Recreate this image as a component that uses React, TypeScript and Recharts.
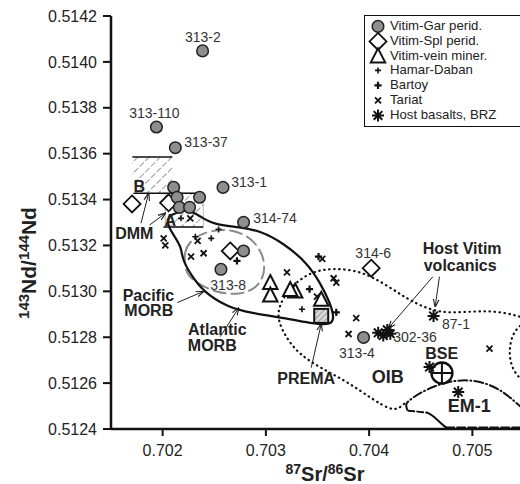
import React from 'react';
import {
  ScatterChart,
  Scatter,
  XAxis,
  YAxis,
  ReferenceLine,
  ReferenceArea,
  Legend,
} from 'recharts';

const FONT = '"Liberation Sans", Arial, Helvetica, sans-serif';

const xTicks = [0.702, 0.703, 0.704, 0.705];
const yTicks = [0.5124, 0.5126, 0.5128, 0.513, 0.5132, 0.5134, 0.5136, 0.5138, 0.514, 0.5142];

// samples
const garPerid = [
  { x: 0.702387, y: 0.514048 },
  { x: 0.70194, y: 0.513716 },
  { x: 0.702123, y: 0.513626 },
  { x: 0.702585, y: 0.513453 },
  { x: 0.702107, y: 0.513453 },
  { x: 0.70214, y: 0.51341 },
  { x: 0.702358, y: 0.51341 },
  { x: 0.702162, y: 0.513366 },
  { x: 0.702261, y: 0.513366 },
  { x: 0.702784, y: 0.513301 },
  { x: 0.702784, y: 0.513176 },
  { x: 0.702565, y: 0.513096 },
  { x: 0.703946, y: 0.512799 },
];
const splPerid = [
  { x: 0.701704, y: 0.513381 },
  { x: 0.702058, y: 0.513386 },
  { x: 0.702655, y: 0.513176 },
  { x: 0.70402, y: 0.513101 },
];
const veinMiner = [
  { x: 0.703043, y: 0.513036 },
  { x: 0.703043, y: 0.512982 },
  { x: 0.703284, y: 0.512999 },
  { x: 0.703236, y: 0.513006 },
  { x: 0.703536, y: 0.512963 },
];
const hamarDaban = [
  { x: 0.702178, y: 0.513318 },
  { x: 0.702542, y: 0.51327 },
  { x: 0.702471, y: 0.513231 },
  { x: 0.702317, y: 0.513238 },
  { x: 0.70335, y: 0.512922 },
];
const bartoy = [
  { x: 0.70272, y: 0.513133 },
  { x: 0.70351, y: 0.513151 },
  { x: 0.703423, y: 0.51301 },
  { x: 0.703682, y: 0.512908 },
];
const tariat = [
  { x: 0.702268, y: 0.513318 },
  { x: 0.702339, y: 0.51322 },
  { x: 0.70201, y: 0.513231 },
  { x: 0.702026, y: 0.5132 },
  { x: 0.702275, y: 0.513151 },
  { x: 0.702397, y: 0.513166 },
  { x: 0.703546, y: 0.513141 },
  { x: 0.703204, y: 0.513083 },
  { x: 0.703656, y: 0.513057 },
  { x: 0.703682, y: 0.513038 },
  { x: 0.703495, y: 0.512977 },
  { x: 0.703875, y: 0.512883 },
  { x: 0.703801, y: 0.512814 },
  { x: 0.705166, y: 0.51275 },
];
const hostBasalts = [
  { x: 0.704624, y: 0.512893 },
  { x: 0.704088, y: 0.512819 },
  { x: 0.704137, y: 0.512807 },
  { x: 0.704176, y: 0.512832 },
  { x: 0.704205, y: 0.512815 },
  { x: 0.704585, y: 0.51267 },
  { x: 0.704863, y: 0.512561 },
];
const prema = [{ x: 0.703536, y: 0.512893 }];
const bse = [{ x: 0.704705, y: 0.512644 }];

// fields
const atlanticMorb = [
  { x: 0.702055, y: 0.513328 }, { x: 0.702142, y: 0.513344 }, { x: 0.702249, y: 0.513359 },
  { x: 0.702365, y: 0.513326 }, { x: 0.702491, y: 0.513291 }, { x: 0.702752, y: 0.51328 },
  { x: 0.702946, y: 0.513263 }, { x: 0.703168, y: 0.513211 }, { x: 0.703401, y: 0.513124 },
  { x: 0.703526, y: 0.513037 }, { x: 0.703623, y: 0.51295 }, { x: 0.703662, y: 0.512884 },
  { x: 0.703632, y: 0.512854 }, { x: 0.703468, y: 0.512858 }, { x: 0.703207, y: 0.512882 },
  { x: 0.702849, y: 0.512906 }, { x: 0.702626, y: 0.512932 }, { x: 0.702394, y: 0.512998 },
  { x: 0.702268, y: 0.513076 }, { x: 0.70219, y: 0.513141 }, { x: 0.702181, y: 0.513193 },
  { x: 0.702113, y: 0.513241 }, { x: 0.702045, y: 0.513289 },
];
const pacificMorb = [
  { x: 0.70222, y: 0.513101 }, { x: 0.702203, y: 0.513173 }, { x: 0.702285, y: 0.513231 },
  { x: 0.702462, y: 0.513267 }, { x: 0.702687, y: 0.51327 }, { x: 0.702865, y: 0.513231 },
  { x: 0.702978, y: 0.513159 }, { x: 0.702994, y: 0.513079 }, { x: 0.702914, y: 0.513014 },
  { x: 0.702752, y: 0.512985 }, { x: 0.702527, y: 0.512992 }, { x: 0.702333, y: 0.513035 },
  { x: 0.702242, y: 0.513072 },
];
const oibField = [
  { x: 0.70434, y: 0.51251 }, { x: 0.704282, y: 0.512488 }, { x: 0.704205, y: 0.512484 },
  { x: 0.70404, y: 0.512528 }, { x: 0.703788, y: 0.512606 }, { x: 0.703526, y: 0.512667 },
  { x: 0.703333, y: 0.512723 }, { x: 0.703207, y: 0.512789 }, { x: 0.70311, y: 0.512876 },
  { x: 0.703129, y: 0.512941 }, { x: 0.703236, y: 0.513019 }, { x: 0.703429, y: 0.513085 },
  { x: 0.703652, y: 0.513102 }, { x: 0.703913, y: 0.513089 }, { x: 0.704136, y: 0.513037 },
  { x: 0.704368, y: 0.512967 }, { x: 0.704562, y: 0.512924 }, { x: 0.704737, y: 0.512906 },
  { x: 0.70493, y: 0.51291 }, { x: 0.705143, y: 0.512915 }, { x: 0.705336, y: 0.512906 },
  { x: 0.7055, y: 0.512884 },
];
const rightField = [
  { x: 0.7055, y: 0.512863 }, { x: 0.705414, y: 0.512832 }, { x: 0.705366, y: 0.51278 },
  { x: 0.705356, y: 0.51271 }, { x: 0.705404, y: 0.512645 }, { x: 0.7055, y: 0.512606 },
];
const em1Top = [
  { x: 0.704369, y: 0.512484 }, { x: 0.70435, y: 0.51251 }, { x: 0.704398, y: 0.512528 },
  { x: 0.704495, y: 0.512558 }, { x: 0.704641, y: 0.512589 }, { x: 0.704805, y: 0.51261 },
  { x: 0.704979, y: 0.512615 }, { x: 0.705154, y: 0.512597 }, { x: 0.705299, y: 0.512562 },
  { x: 0.705414, y: 0.512519 }, { x: 0.7055, y: 0.512484 },
];
const em1Dashed = [
  { x: 0.704379, y: 0.51248 }, { x: 0.704562, y: 0.512471 },
];
const em1Solid = [
  { x: 0.704562, y: 0.512471 }, { x: 0.70462, y: 0.512458 }, { x: 0.704678, y: 0.512432 },
  { x: 0.704746, y: 0.512406 },
];
const em1Base = [
  { x: 0.704746, y: 0.512406 }, { x: 0.7055, y: 0.512406 },
];

// DMM boxes
const dmmBoxes = [
  { name: 'B', x1: 0.701707, x2: 0.702094, y1: 0.513428, y2: 0.513585 },
  { name: 'A', x1: 0.702026, x2: 0.702394, y1: 0.51328, y2: 0.513428 },
];
const dmmLines = [
  { x1: 0.701707, y1: 0.513585, x2: 0.702094, y2: 0.513585 },
  { x1: 0.701717, y1: 0.513428, x2: 0.702394, y2: 0.513428 },
  { x1: 0.702007, y1: 0.51328, x2: 0.702394, y2: 0.51328 },
];

const arrows = [
  { x1: 0.702142, y1: 0.512951, x2: 0.702394, y2: 0.512999 },
  { x1: 0.702559, y1: 0.512803, x2: 0.702736, y2: 0.512927 },
  { x1: 0.701791, y1: 0.513297, x2: 0.701864, y2: 0.513427 },
  { x1: 0.701874, y1: 0.513289, x2: 0.702026, y2: 0.51334 },
  { x1: 0.703439, y1: 0.512667, x2: 0.703536, y2: 0.512858 },
  { x1: 0.704618, y1: 0.513064, x2: 0.704188, y2: 0.51284 },
  { x1: 0.704681, y1: 0.513064, x2: 0.70464, y2: 0.512934 },
];

const sampleLabels = [
  { text: '313-2', x: 0.702389, y: 0.514107, anchor: 'middle' },
  { text: '313-110', x: 0.70192, y: 0.513777, anchor: 'middle' },
  { text: '313-37', x: 0.70221, y: 0.51365, anchor: 'start' },
  { text: '313-1', x: 0.702665, y: 0.513476, anchor: 'start' },
  { text: '314-74', x: 0.702878, y: 0.51332, anchor: 'start' },
  { text: '313-8', x: 0.702462, y: 0.513028, anchor: 'start' },
  { text: '314-6', x: 0.70404, y: 0.513167, anchor: 'middle' },
  { text: '313-4', x: 0.703882, y: 0.512732, anchor: 'middle' },
  { text: '302-36', x: 0.704233, y: 0.512802, anchor: 'start' },
  { text: '87-1', x: 0.704706, y: 0.512858, anchor: 'start' },
];
const fieldLabels = [
  { text: 'Host Vitim', x: 0.704901, y: 0.513189 },
  { text: 'volcanics', x: 0.704882, y: 0.513115 },
  { text: 'BSE', x: 0.704703, y: 0.512728 },
  { text: 'PREMA', x: 0.703391, y: 0.512619 },
  { text: 'Pacific', x: 0.701863, y: 0.512984 },
  { text: 'MORB', x: 0.701866, y: 0.512915 },
  { text: 'Atlantic', x: 0.70253, y: 0.512835 },
  { text: 'MORB', x: 0.702481, y: 0.512766 },
  { text: 'DMM', x: 0.701726, y: 0.513254 },
  { text: 'A', x: 0.702075, y: 0.513311 },
  { text: 'B', x: 0.701774, y: 0.513459 },
];
const bigLabels = [
  { text: 'OIB', x: 0.70418, y: 0.512628 },
  { text: 'EM-1', x: 0.704969, y: 0.512501 },
];

const GarDot = (p: any) => (
  <circle cx={p.cx} cy={p.cy} r={5.8} fill="#8e8e8e" stroke="#222" strokeWidth={1.5} />
);
const SplDot = (p: any) => {
  const { cx, cy } = p;
  const d = 8.5;
  return (
    <polygon
      points={`${cx},${cy - d} ${cx + d},${cy} ${cx},${cy + d} ${cx - d},${cy}`}
      fill="#fff"
      stroke="#111"
      strokeWidth={1.8}
    />
  );
};
const VeinDot = (p: any) => {
  const { cx, cy } = p;
  return (
    <polygon
      points={`${cx},${cy - 8} ${cx + 7.2},${cy + 6} ${cx - 7.2},${cy + 6}`}
      fill="#fff"
      stroke="#111"
      strokeWidth={2}
    />
  );
};
const plus = (cx: number, cy: number, a: number, w: number) => (
  <path d={`M${cx - a},${cy}H${cx + a}M${cx},${cy - a}V${cy + a}`} stroke="#111" strokeWidth={w} />
);
const HamarDot = (p: any) => plus(p.cx, p.cy, 3, 1.6);
const BartoyDot = (p: any) => plus(p.cx, p.cy, 3.6, 2.2);
const TariatDot = (p: any) => {
  const { cx, cy } = p;
  const a = 3;
  return (
    <path
      d={`M${cx - a},${cy - a}L${cx + a},${cy + a}M${cx - a},${cy + a}L${cx + a},${cy - a}`}
      stroke="#111"
      strokeWidth={1.8}
    />
  );
};
const HostDot = (p: any) => {
  const { cx, cy } = p;
  const a = 6;
  const b = 4.3;
  return (
    <path
      d={`M${cx - a},${cy}H${cx + a}M${cx},${cy - a}V${cy + a}M${cx - b},${cy - b}L${cx + b},${cy + b}M${cx - b},${cy + b}L${cx + b},${cy - b}`}
      stroke="#111"
      strokeWidth={2}
    />
  );
};
const PremaDot = (p: any) => (
  <rect x={p.cx - 7} y={p.cy - 7} width={14} height={14} fill="url(#premaHatch)" stroke="#111" strokeWidth={2} />
);
const BseDot = (p: any) => {
  const { cx, cy } = p;
  const r = 10.5;
  return (
    <g>
      <circle cx={cx} cy={cy} r={r} fill="#fff" stroke="#111" strokeWidth={2.4} />
      <path d={`M${cx - r},${cy}H${cx + r}M${cx},${cy - r}V${cy + r}`} stroke="#111" strokeWidth={2} />
    </g>
  );
};
const NoDot = () => <g />;

const SampleText = (p: any) => (
  <text x={p.cx} y={p.cy} dy="0.35em" textAnchor={p.payload.anchor} fontSize={14} fill="#333" fontFamily={FONT}>
    {p.payload.text}
  </text>
);
const FieldText = (p: any) => (
  <text x={p.cx} y={p.cy} dy="0.35em" textAnchor="middle" fontSize={16} fontWeight="bold" fill="#222" fontFamily={FONT}>
    {p.payload.text}
  </text>
);
const BigText = (p: any) => (
  <text x={p.cx} y={p.cy} dy="0.35em" textAnchor="middle" fontSize={18} fontWeight="bold" fill="#222" fontFamily={FONT}>
    {p.payload.text}
  </text>
);

const legendRows = [
  { name: 'Vitim-Gar perid.', Icon: GarDot },
  { name: 'Vitim-Spl perid.', Icon: SplDot },
  { name: 'Vitim-vein miner.', Icon: VeinDot },
  { name: 'Hamar-Daban', Icon: HamarDot },
  { name: 'Bartoy', Icon: BartoyDot },
  { name: 'Tariat', Icon: TariatDot },
  { name: 'Host basalts, BRZ', Icon: HostDot },
];

const LegendBox = () => (
  <div
    style={{
      border: '1.5px solid #111',
      borderRight: 'none',
      background: '#fff',
      padding: '3px 0 3px 4px',
      fontFamily: FONT,
      fontSize: 13.2,
      color: '#222',
      whiteSpace: 'nowrap',
    }}
  >
    {legendRows.map(({ name, Icon }) => (
      <div key={name} style={{ display: 'flex', alignItems: 'center', height: 14.8, lineHeight: '14.8px' }}>
        <svg width={18} height={14.8} style={{ marginRight: 3, overflow: 'visible' }}>
          <Icon cx={9} cy={7.4} />
        </svg>
        <span>{name}</span>
      </div>
    ))}
  </div>
);

const XTitle = () => (
  <text x={325} y={481} textAnchor="middle" fontWeight="bold" fill="#222" fontFamily={FONT}>
    <tspan fontSize={14} dy={-7}>87</tspan>
    <tspan fontSize={20} dy={7}>Sr/</tspan>
    <tspan fontSize={14} dy={-7}>86</tspan>
    <tspan fontSize={20} dy={7}>Sr</tspan>
  </text>
);
const YTitle = () => (
  <text
    x={36}
    y={263}
    transform="rotate(-90 36 263)"
    textAnchor="middle"
    fontWeight="bold"
    fill="#222"
    fontFamily={FONT}
  >
    <tspan fontSize={15} dy={-7}>143</tspan>
    <tspan fontSize={21} dy={7}>Nd/</tspan>
    <tspan fontSize={15} dy={-7}>144</tspan>
    <tspan fontSize={21} dy={7}>Nd</tspan>
  </text>
);

const field = (data: any[], key: string, stroke: string, width: number, dash: string | undefined, joint: any) => (
  <Scatter
    key={key}
    name={key}
    data={data}
    fill="none"
    shape={NoDot}
    line={{ stroke, strokeWidth: width, strokeDasharray: dash, strokeLinecap: 'round' }}
    lineType="joint"
    lineJointType={joint}
    legendType="none"
    isAnimationActive={false}
  />
);

export default function App() {
  return (
    <div style={{ position: 'absolute', left: 0, top: 0, width: 520, height: 484, overflow: 'hidden', background: '#fff' }}>
      <svg width={0} height={0} style={{ position: 'absolute' }}>
        <defs>
          <pattern id="hatch" width={8} height={8} patternUnits="userSpaceOnUse" patternTransform="rotate(45)">
            <line x1={0} y1={0} x2={0} y2={8} stroke="#9a9a9a" strokeWidth={2} strokeDasharray="3 2" />
          </pattern>
          <pattern id="premaHatch" width={4} height={4} patternUnits="userSpaceOnUse" patternTransform="rotate(45)">
            <rect width={4} height={4} fill="#d8d8d8" />
            <line x1={0} y1={0} x2={0} y2={4} stroke="#8a8a8a" strokeWidth={1.5} />
          </pattern>
          <marker id="arr" viewBox="0 0 10 10" refX={9} refY={5} markerWidth={8} markerHeight={8} orient="auto">
            <path d="M0,1.5 L10,5 L0,8.5" fill="none" stroke="#222" strokeWidth={1.4} />
          </marker>
        </defs>
      </svg>
      <ScatterChart width={540} height={484} margin={{ top: 16, right: 16, bottom: 0, left: 0 }}>
        <XAxis
          type="number"
          dataKey="x"
          domain={[0.7015, 0.7055]}
          ticks={xTicks}
          allowDataOverflow
          height={55}
          tickSize={7}
          tickMargin={9}
          tickFormatter={(v: number) => v.toFixed(3)}
          tick={{ fill: '#222', fontSize: 16, fontFamily: FONT }}
          axisLine={{ stroke: '#111', strokeWidth: 2.5 }}
          tickLine={{ stroke: '#111', strokeWidth: 2 }}
          label={<XTitle />}
        />
        <XAxis
          xAxisId="top"
          orientation="top"
          type="number"
          dataKey="x"
          domain={[0.7015, 0.7055]}
          ticks={xTicks}
          allowDataOverflow
          height={0}
          mirror
          tickSize={6}
          tickFormatter={() => ''}
          axisLine={{ stroke: '#111', strokeWidth: 2.5 }}
          tickLine={{ stroke: '#111', strokeWidth: 2 }}
        />
        <YAxis
          type="number"
          dataKey="y"
          domain={[0.5124, 0.5142]}
          ticks={yTicks}
          allowDataOverflow
          width={111}
          tickSize={8}
          tickMargin={6}
          tickFormatter={(v: number) => v.toFixed(4)}
          tick={{ fill: '#222', fontSize: 16, fontFamily: FONT }}
          axisLine={{ stroke: '#111', strokeWidth: 2.5 }}
          tickLine={{ stroke: '#111', strokeWidth: 2 }}
          label={<YTitle />}
        />
        <YAxis
          yAxisId="right"
          orientation="right"
          type="number"
          dataKey="y"
          domain={[0.5124, 0.5142]}
          ticks={yTicks}
          allowDataOverflow
          width={0}
          mirror
          tickSize={6}
          tickFormatter={() => ''}
          axisLine={{ stroke: '#111', strokeWidth: 2.5 }}
          tickLine={{ stroke: '#111', strokeWidth: 2 }}
        />

        {dmmBoxes.map((b) => (
          <ReferenceArea
            key={b.name}
            x1={b.x1}
            x2={b.x2}
            y1={b.y1}
            y2={b.y2}
            fill="url(#hatch)"
            fillOpacity={1}
            stroke={b.name === 'A' ? '#bbb' : 'none'}
            strokeWidth={1}
          />
        ))}
        {dmmLines.map((l, i) => (
          <ReferenceLine
            key={`dl${i}`}
            segment={[{ x: l.x1, y: l.y1 }, { x: l.x2, y: l.y2 }]}
            stroke="#111"
            strokeWidth={1.5}
          />
        ))}

        {field(rightField, 'right field', '#111', 2.2, '0.5 4.5', 'basis')}
        {field(oibField, 'OIB', '#111', 2.2, '0.5 4.5', 'basis')}
        {field(em1Top, 'EM-1 top', '#111', 2, '9 3 1 3', 'basis')}
        {field(em1Dashed, 'EM-1 dash', '#111', 2, '6 3', 'linear')}
        {field(em1Solid, 'EM-1 solid', '#111', 2, undefined, 'basis')}
        {field(em1Base, 'EM-1 base', '#111', 2, '8 3', 'linear')}
        {field(pacificMorb, 'Pacific MORB', '#8a8a8a', 2, '12 6', 'basisClosed')}
        {field(atlanticMorb, 'Atlantic MORB', '#111', 2.2, undefined, 'basisClosed')}

        {arrows.map((a, i) => (
          <ReferenceLine
            key={`ar${i}`}
            segment={[{ x: a.x1, y: a.y1 }, { x: a.x2, y: a.y2 }]}
            stroke="#222"
            strokeWidth={1}
            markerEnd="url(#arr)"
          />
        ))}

        <Scatter name="Tariat" data={tariat} shape={TariatDot} isAnimationActive={false} />
        <Scatter name="Hamar-Daban" data={hamarDaban} shape={HamarDot} isAnimationActive={false} />
        <Scatter name="Bartoy" data={bartoy} shape={BartoyDot} isAnimationActive={false} />
        <Scatter name="PREMA" data={prema} shape={PremaDot} legendType="none" isAnimationActive={false} />
        <Scatter name="Vitim-vein miner." data={veinMiner} shape={VeinDot} isAnimationActive={false} />
        <Scatter name="Vitim-Spl perid." data={splPerid} shape={SplDot} isAnimationActive={false} />
        <Scatter name="Vitim-Gar perid." data={garPerid} shape={GarDot} isAnimationActive={false} />
        <Scatter name="BSE" data={bse} shape={BseDot} legendType="none" isAnimationActive={false} />
        <Scatter name="Host basalts, BRZ" data={hostBasalts} shape={HostDot} isAnimationActive={false} />

        <Scatter name="sample labels" data={sampleLabels} shape={SampleText} legendType="none" isAnimationActive={false} />
        <Scatter name="field labels" data={fieldLabels} shape={FieldText} legendType="none" isAnimationActive={false} />
        <Scatter name="big labels" data={bigLabels} shape={BigText} legendType="none" isAnimationActive={false} />

        <Legend
          layout="vertical"
          align="center"
          verticalAlign="middle"
          content={LegendBox}
          wrapperStyle={{ left: 364, top: 15, width: 175 }}
        />
      </ScatterChart>
    </div>
  );
}
